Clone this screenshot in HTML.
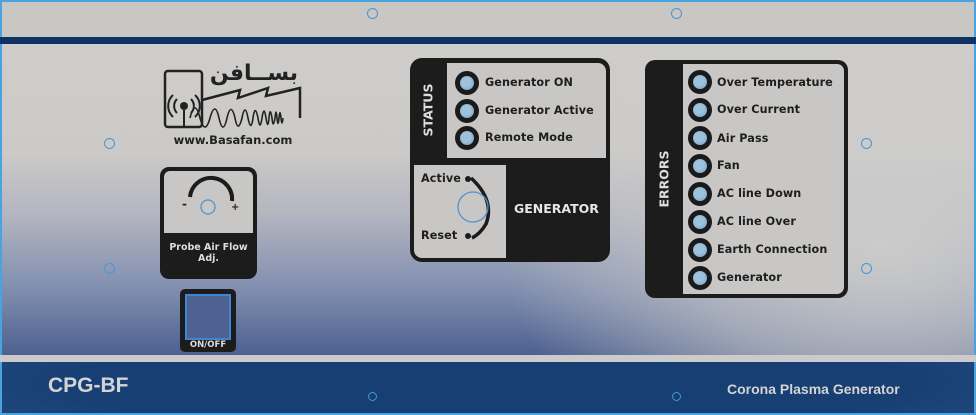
<!DOCTYPE html>
<html><head><meta charset="utf-8"><style>
*{margin:0;padding:0;box-sizing:border-box}
body{width:976px;height:415px;overflow:hidden;background:#c9c7c3;font-family:"DejaVu Sans","Liberation Sans",sans-serif;position:relative}
.a{position:absolute}
.top{left:0;top:0;width:976px;height:37px;background:#c9c7c3;border-top:2px solid #4aa3df;border-left:2px solid #4aa3df;border-right:2px solid #4aa3df}
.bar{left:0;top:37px;width:976px;height:7px;background:#0d3263}
.main{left:0;top:44px;width:976px;height:311px;border-left:2px solid #4aa3df;border-right:2px solid #4aa3df;
background:radial-gradient(ellipse 380px 260px at 880px 200px,rgba(206,205,203,0.95) 0%,rgba(206,205,203,0.6) 50%,rgba(206,205,203,0) 100%),
linear-gradient(to bottom,#cfcdca 0%,#cbcac8 35%,#b3b5c0 55%,#8290b0 78%,#4d6090 100%);}
.strip{left:0;top:355px;width:976px;height:7px;background:#cbcbcb}
.bot{left:0;top:362px;width:976px;height:53px;background:radial-gradient(ellipse 700px 90px at 488px 20px,#173f73 60%,#2a5185 100%);border:2px solid #4aa3df;border-top:none}
.hole{width:11px;height:11px;border:1.5px solid #4f93cf;border-radius:50%}
.led{width:24px;height:24px;border-radius:50%;background:#1a1a1a;}
.led::after{content:"";position:absolute;left:5px;top:5px;width:14px;height:14px;border-radius:50%;background:radial-gradient(circle at 45% 45%,#9fc2dc 40%,#6f9cc0);}
.lbl{font-weight:bold;font-size:11.2px;color:#1e1e1e;white-space:nowrap;letter-spacing:0.1px}
</style></head><body>
<div class="a top"></div>
<div class="a bar"></div>
<div class="a main"></div>
<div class="a strip"></div>
<div class="a bot"></div>

<div class="a hole" style="left:367px;top:8px"></div>
<div class="a hole" style="left:671px;top:8px"></div>
<div class="a hole" style="left:104px;top:138px"></div>
<div class="a hole" style="left:104px;top:263px"></div>
<div class="a hole" style="left:861px;top:138px"></div>
<div class="a hole" style="left:861px;top:263px"></div>
<div class="a hole" style="left:368px;top:392px;width:9px;height:9px"></div>
<div class="a hole" style="left:672px;top:392px;width:9px;height:9px"></div>

<!-- logo -->
<svg class="a" style="left:150px;top:55px" width="170" height="80" viewBox="150 55 170 80">
<rect x="165" y="71" width="37" height="56" rx="3" fill="none" stroke="#222" stroke-width="2.5"/>
<polyline points="202,100 240,90 238,98 268,88 266,96 300,88 300,118" fill="none" stroke="#222" stroke-width="2.5"/>
<path d="M190,118 q5,-20 10,0 q5,18 10,0 q5,-18 9,0 q4,18 8,0 q4,-17 8,0 q3,16 7,0 q3,-16 6,0 q3,15 5,0 q2,-15 5,0 q2,14 4,0 q2,-14 4,0 q2,13 3,0 q1,-13 3,0 q1,12 3,0 q1,-12 2,0 q1,11 2,0 q1,-11 2,0 q1,10 2,0" fill="none" stroke="#222" stroke-width="1.6"/>
<circle cx="184" cy="106" r="4" fill="#222"/>
<path d="M177,99 a10,10 0 0 0 0,14 M191,99 a10,10 0 0 1 0,14 M173,95 a15,15 0 0 0 0,22 M195,95 a15,15 0 0 1 0,22" fill="none" stroke="#222" stroke-width="2"/>
<line x1="184" y1="110" x2="184" y2="126" stroke="#222" stroke-width="2"/>
<text x="298" y="80" text-anchor="end" font-family="'DejaVu Sans',sans-serif" font-size="22" font-weight="bold" fill="#222">بســافن</text>
</svg>
<div class="a" style="left:152px;top:133px;width:162px;text-align:center;font-weight:bold;font-size:11.5px;color:#222">www.Basafan.com</div>

<!-- probe -->
<div class="a" style="left:160px;top:167px;width:97px;height:112px;background:#1c1c1c;border-radius:9px"></div>
<div class="a" style="left:164px;top:171px;width:89px;height:62px;background:#c8c7c5;border-radius:6px 6px 0 0"></div>
<svg class="a" style="left:164px;top:171px" width="89" height="62">
<path d="M26,26 A20,20 0 0 1 68,30" fill="none" stroke="#1c1c1c" stroke-width="4"/>
<circle cx="44" cy="36" r="7" fill="none" stroke="#4f93cf" stroke-width="1.3"/>
<text x="18" y="37" font-size="12" font-weight="bold" fill="#222">-</text>
<text x="67" y="39" font-size="10" font-weight="bold" fill="#222">+</text>
</svg>
<div class="a" style="left:158px;top:242px;width:101px;text-align:center;color:#ddd;font-weight:bold;font-size:9.5px;line-height:11px">Probe Air Flow<br>Adj.</div>

<!-- on/off -->
<div class="a" style="left:180px;top:289px;width:56px;height:63px;background:#1c1c1c;border-radius:5px"></div>
<div class="a" style="left:185px;top:294px;width:46px;height:46px;background:#4f6190;border:2px solid #3d86d0"></div>
<div class="a" style="left:180px;top:340px;width:56px;text-align:center;color:#ddd;font-weight:bold;font-size:8.5px">ON/OFF</div>

<!-- status panel -->
<div class="a" style="left:410px;top:58px;width:200px;height:204px;background:#1c1c1c;border-radius:12px"></div>
<div class="a" style="left:447px;top:63px;width:159px;height:95px;background:#c8c7c5;border-radius:0 8px 0 0"></div>
<div class="a" style="left:414px;top:165px;width:92px;height:93px;background:#c8c7c5;border-radius:0 0 0 8px"></div>
<div class="a" style="left:428px;top:110px;transform:translate(-50%,-50%) rotate(-90deg);color:#ddd;font-weight:bold;font-size:12.5px">STATUS</div>
<div class="a led" style="left:455px;top:71px"></div>
<div class="a led" style="left:455px;top:99px"></div>
<div class="a led" style="left:455px;top:126px"></div>
<div class="a lbl" style="left:485px;top:76px">Generator ON</div>
<div class="a lbl" style="left:485px;top:104px">Generator Active</div>
<div class="a lbl" style="left:485px;top:131px">Remote Mode</div>
<div class="a lbl" style="left:421px;top:172px">Active</div>
<div class="a lbl" style="left:421px;top:229px">Reset</div>
<svg class="a" style="left:440px;top:170px" width="60" height="75">
<circle cx="28" cy="9" r="3" fill="#1c1c1c"/><circle cx="28" cy="66" r="3" fill="#1c1c1c"/>
<path d="M31,8 Q55,30 46,54 Q40,64 32,68" fill="none" stroke="#1c1c1c" stroke-width="3.5"/>
<circle cx="33" cy="37" r="15" fill="none" stroke="#4f93cf" stroke-width="1.3"/>
</svg>
<div class="a" style="left:514px;top:201px;color:#e6e6e6;font-weight:bold;font-size:12.5px">GENERATOR</div>

<!-- errors -->
<div class="a" style="left:645px;top:60px;width:203px;height:238px;background:#1c1c1c;border-radius:10px"></div>
<div class="a" style="left:683px;top:64px;width:161px;height:230px;background:#c8c7c5;border-radius:0 7px 7px 0"></div>
<div class="a" style="left:664px;top:179px;transform:translate(-50%,-50%) rotate(-90deg);color:#ddd;font-weight:bold;font-size:12.5px">ERRORS</div>
<div class="a led" style="left:688px;top:70px"></div>
<div class="a led" style="left:688px;top:98px"></div>
<div class="a led" style="left:688px;top:126px"></div>
<div class="a led" style="left:688px;top:154px"></div>
<div class="a led" style="left:688px;top:182px"></div>
<div class="a led" style="left:688px;top:210px"></div>
<div class="a led" style="left:688px;top:238px"></div>
<div class="a led" style="left:688px;top:266px"></div>
<div class="a lbl" style="left:717px;top:76px">Over Temperature</div>
<div class="a lbl" style="left:717px;top:103px">Over Current</div>
<div class="a lbl" style="left:717px;top:132px">Air Pass</div>
<div class="a lbl" style="left:717px;top:159px">Fan</div>
<div class="a lbl" style="left:717px;top:187px">AC line Down</div>
<div class="a lbl" style="left:717px;top:215px">AC line Over</div>
<div class="a lbl" style="left:717px;top:243px">Earth Connection</div>
<div class="a lbl" style="left:717px;top:271px">Generator</div>

<div class="a" style="left:48px;top:374px;color:#d4d4d4;font-weight:bold;font-size:21px;font-family:'Liberation Sans Narrow','Liberation Sans',sans-serif">CPG-BF</div>
<div class="a" style="left:727px;top:381px;color:#d4d4d4;font-weight:bold;font-size:14px;font-family:'Liberation Sans',sans-serif">Corona Plasma Generator</div>
</body></html>
